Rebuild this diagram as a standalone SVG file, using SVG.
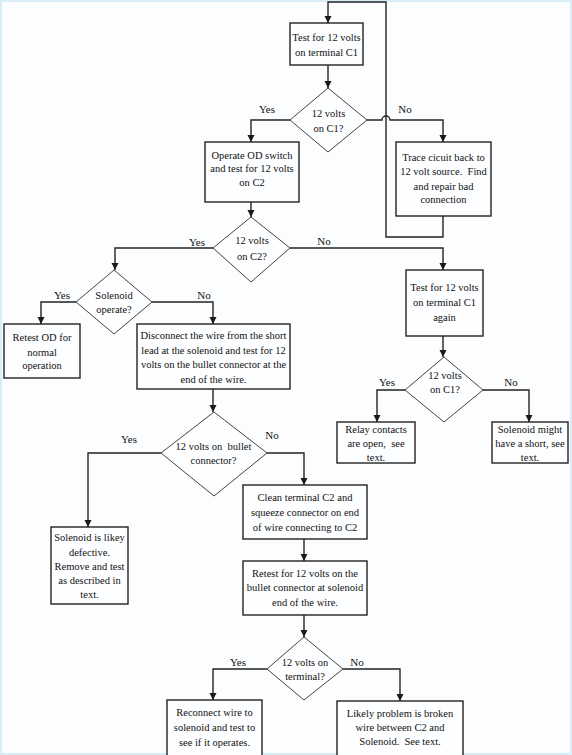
<svg xmlns="http://www.w3.org/2000/svg" width="572" height="755" viewBox="0 0 572 755">
<defs>
<marker id="arr" markerUnits="userSpaceOnUse" markerWidth="8" markerHeight="8" refX="7" refY="3.5" orient="auto">
<path d="M0,0 L7,3.5 L0,7 z" fill="#1a1a1a"/>
</marker>
</defs>
<style>
.box{fill:#fdfeff;stroke:#222;stroke-width:1.4}
.dia{fill:#fdfeff;stroke:#444;stroke-width:1}
.con{fill:none;stroke:#222;stroke-width:1.4}
.arr{marker-end:url(#arr)}
text{font-family:"Liberation Serif","Times New Roman",serif;font-size:10.5px;fill:#111;text-anchor:middle}
.lbl{font-size:11px}
</style>
<rect x="0" y="0" width="572" height="755" fill="#fbfdff"/>
<rect x="1" y="1" width="570" height="753" fill="none" stroke="#d8edf6" stroke-width="2"/>
<g id="connectors">
<path class="con arr" d="M443,216 V237 H386 V2 H328 V23"/>
<path class="con arr" d="M328,65 V88"/>
<path class="con arr" d="M290,120 H251 V142"/>
<path class="con arr" d="M367,120 H382 A4,4 0 0 1 390,120 H443 V142"/>
<path class="con arr" d="M251,202 V217"/>
<path class="con arr" d="M213,248 H115 V270"/>
<path class="con arr" d="M290,248 H443 V270"/>
<path class="con arr" d="M76,302 H41 V324"/>
<path class="con arr" d="M152,302 H213 V324"/>
<path class="con arr" d="M213,389 V412"/>
<path class="con arr" d="M161,453 H88 V527"/>
<path class="con arr" d="M267,453 H304 V485"/>
<path class="con arr" d="M304,539 V561"/>
<path class="con arr" d="M304,615 V637"/>
<path class="con arr" d="M267,669 H213 V700"/>
<path class="con arr" d="M343,669 H400 V701"/>
<path class="con arr" d="M443,336 V357"/>
<path class="con arr" d="M405,390 H377 V422"/>
<path class="con arr" d="M483,390 H529 V422"/>
<text class="lbl" x="267" y="113">Yes</text>
<text class="lbl" x="405" y="113">No</text>
<text class="lbl" x="197" y="246">Yes</text>
<text class="lbl" x="324" y="245">No</text>
<text class="lbl" x="62" y="299">Yes</text>
<text class="lbl" x="204" y="299">No</text>
<text class="lbl" x="129" y="443">Yes</text>
<text class="lbl" x="272" y="439">No</text>
<text class="lbl" x="387" y="386">Yes</text>
<text class="lbl" x="511" y="386">No</text>
<text class="lbl" x="238" y="666">Yes</text>
<text class="lbl" x="357" y="666">No</text>
</g>
<g id="test-c1">
<rect class="box" x="290" y="23" width="73" height="42"/>
<text x="326.5" y="41">Test for 12 volts</text>
<text x="326.5" y="56">on terminal C1</text>
</g>
<g id="dec-c1">
<polygon class="dia" points="328,88 367,120 328,152 290,120"/>
<text x="328.5" y="117">12 volts</text>
<text x="328.5" y="132">on C1?</text>
</g>
<g id="operate-od">
<rect class="box" x="205" y="142" width="94" height="60"/>
<text x="252" y="159">Operate OD switch</text>
<text x="252" y="172">and test for 12 volts</text>
<text x="252" y="186">on C2</text>
</g>
<g id="trace">
<rect class="box" x="396" y="142" width="95" height="74"/>
<text x="443.5" y="161">Trace cicuit back to</text>
<text x="443.5" y="175">12 volt source.&#160; Find</text>
<text x="443.5" y="190">and repair bad</text>
<text x="443.5" y="203">connection</text>
</g>
<g id="dec-c2">
<polygon class="dia" points="251,217 290,248 251,282 213,248"/>
<text x="252" y="244">12 volts</text>
<text x="252" y="260">on C2?</text>
</g>
<g id="dec-solenoid">
<polygon class="dia" points="114,270 152,302 114,334 76,302"/>
<text x="114" y="299">Solenoid</text>
<text x="114" y="313">operate?</text>
</g>
<g id="retest-od">
<rect class="box" x="4" y="324" width="76" height="54"/>
<text x="42" y="341">Retest OD for</text>
<text x="42" y="356">normal</text>
<text x="42" y="369">operation</text>
</g>
<g id="disconnect">
<rect class="box" x="137" y="324" width="153" height="65"/>
<text x="213.5" y="339">Disconnect the wire from the short</text>
<text x="213.5" y="354">lead at the solenoid and test for 12</text>
<text x="213.5" y="368">volts on the bullet connector at the</text>
<text x="213.5" y="383">end of the wire.</text>
</g>
<g id="dec-bullet">
<polygon class="dia" points="214,412 267,453 214,496 161,453"/>
<text x="213.5" y="450">12 volts on&#160; bullet</text>
<text x="213.5" y="464">connector?</text>
</g>
<g id="solenoid-defective">
<rect class="box" x="51" y="527" width="77" height="77"/>
<text x="89.5" y="541">Solenoid is likey</text>
<text x="89.5" y="556">defective.</text>
<text x="89.5" y="570">Remove and test</text>
<text x="89.5" y="584">as described in</text>
<text x="89.5" y="598">text.</text>
</g>
<g id="clean-c2">
<rect class="box" x="243" y="485" width="124" height="54"/>
<text x="305" y="501">Clean terminal C2 and</text>
<text x="305" y="516">squeeze connector on end</text>
<text x="305" y="531">of wire connecting to C2</text>
</g>
<g id="retest-bullet">
<rect class="box" x="243" y="561" width="124" height="54"/>
<text x="305" y="577">Retest for 12 volts on the</text>
<text x="305" y="591">bullet connector at solenoid</text>
<text x="305" y="606">end of the wire.</text>
</g>
<g id="dec-terminal">
<polygon class="dia" points="304,637 343,669 304,700 267,669"/>
<text x="305" y="666">12 volts on</text>
<text x="305" y="680">terminal?</text>
</g>
<g id="reconnect">
<rect class="box" x="167" y="700" width="95" height="60"/>
<text x="214.5" y="716">Reconnect wire to</text>
<text x="214.5" y="731">solenoid and test to</text>
<text x="214.5" y="746">see if it operates.</text>
</g>
<g id="broken-wire">
<rect class="box" x="337" y="701" width="126" height="59"/>
<text x="400" y="717">Likely problem is broken</text>
<text x="400" y="731">wire between C2 and</text>
<text x="400" y="745">Solenoid.&#160; See text.</text>
</g>
<g id="test-c1-again">
<rect class="box" x="406" y="270" width="77" height="66"/>
<text x="444.5" y="291">Test for 12 volts</text>
<text x="444.5" y="306">on terminal C1</text>
<text x="444.5" y="321">again</text>
</g>
<g id="dec-c1-again">
<polygon class="dia" points="444,357 483,390 444,422 405,390"/>
<text x="445" y="379">12 volts</text>
<text x="445" y="393">on C1?</text>
</g>
<g id="relay-open">
<rect class="box" x="337" y="422" width="78" height="41"/>
<text x="376" y="433">Relay contacts</text>
<text x="376" y="447">are open,&#160; see</text>
<text x="376" y="461">text.</text>
</g>
<g id="solenoid-short">
<rect class="box" x="492" y="422" width="76" height="41"/>
<text x="530" y="433">Solenoid might</text>
<text x="530" y="447">have a short, see</text>
<text x="530" y="461">text.</text>
</g>
</svg>
